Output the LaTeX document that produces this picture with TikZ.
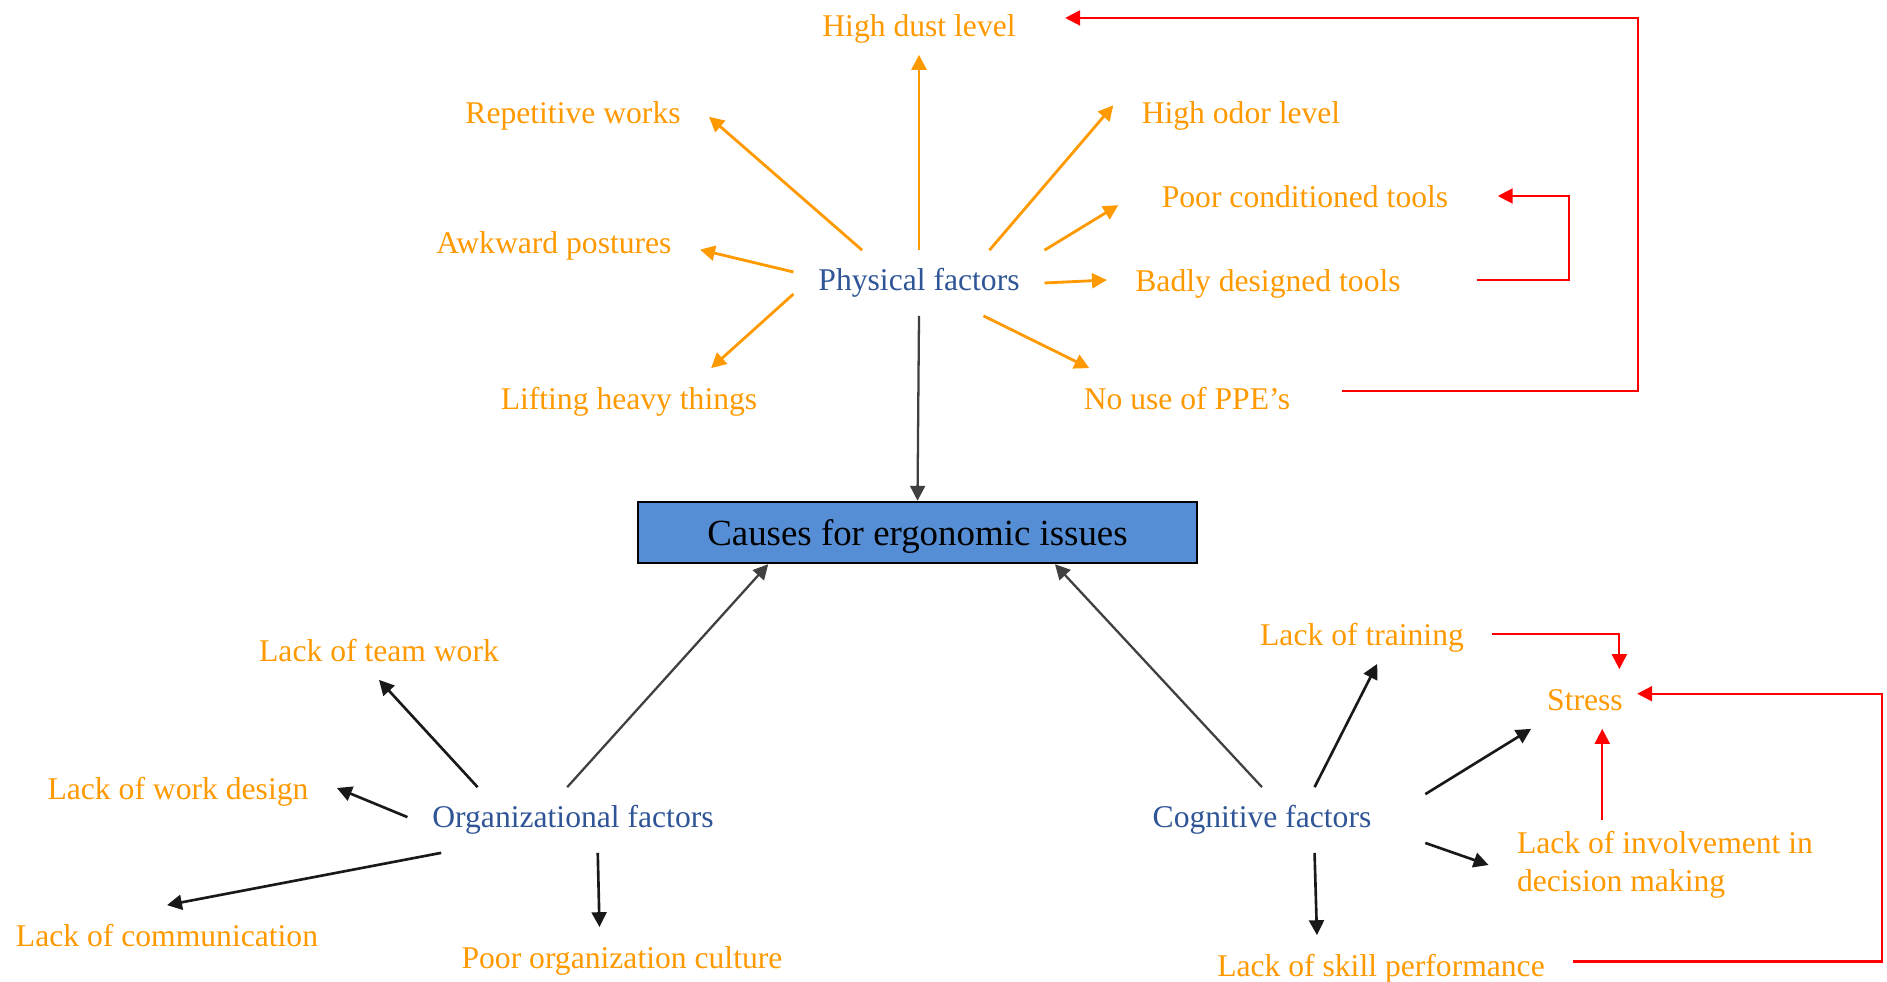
\documentclass[tikz,border=0pt]{standalone}
\usepackage{fontspec}
\setmainfont{Liberation Serif}
\usetikzlibrary{arrows.meta}

\definecolor{itemorange}{RGB}{255,153,0}
\definecolor{factorblue}{RGB}{47,85,151}
\definecolor{boxblue}{RGB}{85,142,213}
\definecolor{darkline}{RGB}{64,64,64}

\begin{document}
\begin{tikzpicture}[
				x = 0.02cm, y = -0.02cm, % one unit is one pixel of the sketch
				> = {Triangle[length=8.5pt,width=8.5pt]}, % arrow head style
				font = \fontsize{18}{21.6}\selectfont,
				causebox/.style = {draw=black, line width=1.4pt, fill=boxblue, inner sep=0pt, text depth=0pt,
					minimum width=11.18cm, minimum height=1.22cm, font=\fontsize{21}{25}\selectfont},
				factor/.style = {text=factorblue, inner xsep=14pt, inner ysep=0pt, minimum height=1.3cm},
				item/.style = {text=itemorange, inner xsep=16pt, inner ysep=6pt,
					execute at begin node={\rule[-4.5pt]{0pt}{21.6pt}}},
				physline/.style = {color=itemorange, line width=1.6pt},
				blackline/.style = {color=black!90, line width=1.5pt},
				mainline/.style = {color=darkline, line width=1.3pt},
				redline/.style = {draw=red, line width=1.2pt}
				]
				
				\useasboundingbox (0,0) rectangle (1887,982);
				
				\node[causebox] (cause) at (917.5,532.5) {Causes for ergonomic issues};
				\node[factor] (phys) at (919,283) {Physical factors};
				\node[factor] (org) at (573,820) {Organizational factors};
				\node[factor, minimum width=6.52cm] (cog) at (1262,820) {Cognitive factors};
				
				% physical
				\node[item] (dust) at (919,25) {High dust level};
				\node[item] (rep) at (573,112) {Repetitive works};
				\node[item] (odor) at (1241,112) {High odor level};
				\node[item] (poor) at (1305,196) {Poor conditioned tools};
				\node[item] (awk) at (554,242) {Awkward postures};
				\node[item] (badly) at (1268,280) {Badly designed tools};
				\node[item] (lift) at (629,398) {Lifting heavy things};
				\node[item] (ppe) at (1187,398) {No use of PPE’s};
				
				% organizational
				\node[item] (team) at (379,650) {Lack of team work};
				\node[item] (design) at (178,788) {Lack of work design};
				\node[item] (comm) at (167,935) {Lack of communication};
				\node[item] (cult) at (622,957) {Poor organization culture};
				
				% cognitive
				\node[item] (train) at (1362,634) {Lack of training};
				\node[item] (stress) at (1585,699) {Stress};
				\node[item, align=left] (inv) at (1665,865) {Lack of involvement in\\decision making};
				\node[item] (skill) at (1381,965) {Lack of skill performance};
				
				\path[->, mainline] (phys.south) edge (cause.north);
				\path[->, mainline] (org.100) edge (cause.192);
				\path[->, mainline] (cog.north) edge (cause.-13);
				
				\path[->, physline] (phys.north) edge (dust.south);
				\path[->, physline] (phys.150) edge (rep.-2);
				\path[->, physline] (phys.25) edge (odor.177);
				\path[->, physline, shorten >=10pt] (phys.north east) edge (poor.west);
				\path[->, physline] (phys.175) edge (awk.-3);
				\path[->, physline] (phys.east) edge (badly.west);
				\path[->, physline] (phys.185) edge (lift.20);
				\path[->, physline] (phys.-27) edge (ppe.163);
				
				\path[->, blackline] (org.161) edge (team.south);
				\path[->, blackline] (org.179) edge (design.east);
				\path[->, blackline] (org.194) edge (comm.north);
				\path[->, blackline] (org.-53) edge (cult.127);
				
				\path[->, blackline] (cog.32) edge (train.-63);
				\path[->, blackline] (cog.9) edge (stress.209);
				\path[->, blackline] (cog.-8) edge (inv.west);
				\path[->, blackline] (cog.-32) edge (skill.155);
				
				% feedback lines
				\draw[->, redline, shorten <=13pt, shorten >=12pt] ([yshift=4pt]ppe.east) -- ++(319,0) |- ([yshift=4pt]dust.east);
				\draw[->, redline, shorten <=27pt, shorten >=12pt] (badly.east) -- ++(140,0) |- (poor.east);
				\draw[->, redline] (train.east) -| (stress.41);
				\draw[->, redline] (inv.north -| stress.-60) -- (stress.-60);
				\draw[->, redline, shorten >=-8pt] ([yshift=2pt]skill.east) -- ++(309,0) |- ([yshift=3pt]stress.east);
				
			\end{tikzpicture}
\end{document}
